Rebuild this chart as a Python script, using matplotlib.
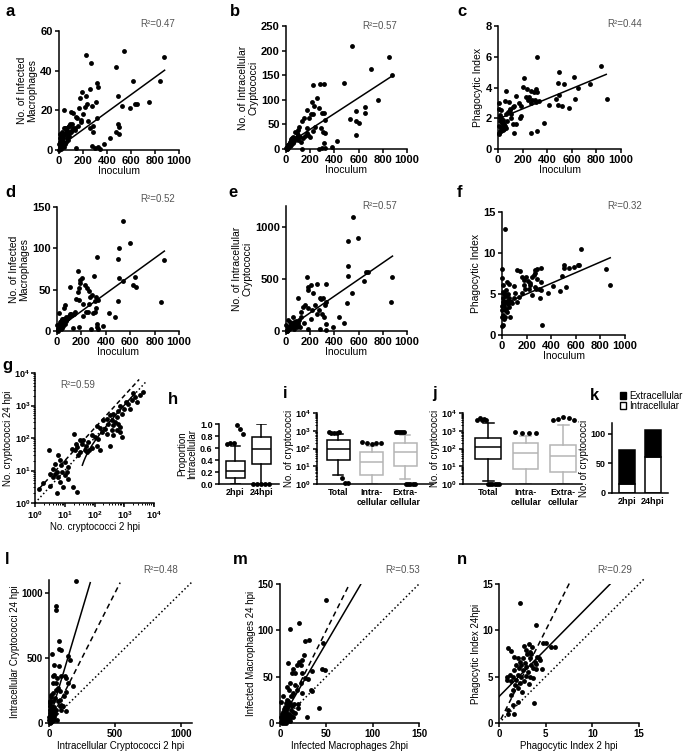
import numpy as np
import matplotlib
matplotlib.use('Agg')
import matplotlib.pyplot as plt
from matplotlib.patches import Patch
from matplotlib.ticker import FuncFormatter, LogLocator, NullFormatter

plt.rcParams['font.family'] = ['Liberation Sans', 'DejaVu Sans']
plt.rcParams['font.weight'] = 'bold'
plt.rcParams['mathtext.fontset'] = 'custom'
plt.rcParams['mathtext.bf'] = 'Liberation Sans:bold'
plt.rcParams['mathtext.rm'] = 'Liberation Sans'

W, H = 685, 753

# ---------------- data ----------------
inoc_infmac_2h = [(223, 48), (540, 50), (877, 47), (270, 44), (471, 42), (318, 34), (618, 35), (841, 35),
                  (329, 32), (189, 29), (173, 26), (223, 27), (256, 31), (306, 24), (493, 27), (273, 22),
                  (214, 21.5), (234, 23), (529, 22), (590, 21), (646, 23), (632, 23), (749, 24), (39, 20),
                  (167, 21), (103, 19), (117, 18.5), (142, 16.8), (153, 16), (320, 16), (200, 18), (181, 15),
                  (240, 14.5), (284, 12), (284, 9), (493, 13), (499, 11.4), (504, 8), (474, 9), (61, 11),
                  (81, 12), (111, 13), (134, 11), (162, 12), (184, 14), (256, 11), (423, 6.2), (376, 3),
                  (273, 2), (304, 1.2), (326, 1.7), (340, 0.5), (139, 1),
                  (5, 1), (10, 2), (15, 3), (12, 4), (20, 5), (25, 5), (30, 6), (35, 7), (45, 8), (55, 8),
                  (60, 9), (70, 10), (20, 0.5), (40, 1.5), (50, 3), (65, 6), (80, 7), (90, 9), (30, 4), (8, 6),
                  (15, 7), (25, 9), (40, 11), (50, 11), (70, 8), (100, 9), (110, 10), (95, 13), (85, 12),
                  (120, 11), (130, 10), (60, 4), (75, 5), (18, 2), (28, 3), (4, 0), (2, 3), (12, 8)]

inoc_intra_2h = [(544, 209), (854, 188), (702, 162), (880, 150), (481, 135), (282, 133), (318, 133), (221, 131),
                 (260, 103), (215, 95), (235, 88), (171, 79), (276, 83), (312, 74), (296, 74), (207, 72),
                 (224, 72), (191, 62), (152, 62), (135, 56), (171, 42), (655, 86), (649, 73), (760, 100),
                 (577, 78), (580, 56), (600, 53), (533, 61), (577, 28), (323, 59), (304, 35), (287, 42),
                 (240, 45), (226, 37), (323, 32), (425, 17), (378, 5), (296, 2), (323, 2), (276, 1), (312, 12),
                 (130, 1), (102, 39), (108, 45), (72, 35), (88, 32), (116, 24), (97, 18), (61, 14), (33, 10),
                 (19, 7), (14, 3), (47, 18), (157, 26), (185, 28), (199, 25), (144, 22), (171, 32), (124, 15),
                 (5, 1), (10, 3), (15, 5), (20, 8), (25, 10), (30, 12), (35, 15), (40, 18), (45, 20), (50, 22),
                 (60, 25), (8, 0), (12, 2), (20, 4), (30, 6), (40, 8), (55, 12), (65, 16), (70, 20), (80, 22),
                 (90, 24), (100, 28), (3, 2), (6, 4)]

inoc_pi_2h = [(319, 5.97), (837, 5.42), (499, 4.99), (210, 4.62), (619, 4.66), (490, 4.32), (537, 4.23),
              (749, 4.21), (649, 4.0), (204, 4.06), (232, 3.88), (68, 3.77), (272, 3.77), (292, 3.71),
              (313, 3.93), (319, 3.69), (150, 3.43), (226, 3.4), (253, 3.4), (471, 3.25), (499, 3.54),
              (278, 3.19), (300, 3.19), (308, 3.06), (335, 3.12), (272, 2.97), (245, 3.19), (54, 3.12),
              (90, 3.08), (169, 2.97), (185, 2.8), (134, 2.8), (417, 2.84), (490, 2.86), (523, 2.82),
              (578, 2.65), (886, 3.23), (627, 3.25), (5, 2.97), (27, 2.54), (95, 2.54), (63, 2.26),
              (109, 2.26), (185, 2.17), (177, 2.04), (109, 2.04), (14, 2.06), (27, 2.0), (371, 1.67),
              (123, 1.63), (144, 1.61), (41, 1.67), (49, 1.5), (27, 1.34), (68, 1.34), (14, 1.17),
              (319, 1.19), (131, 1.02), (272, 1.02), (8, 1.02), (41, 1.24),
              (10, 1.5), (20, 1.8), (30, 1.4), (35, 1.7), (45, 1.3), (50, 1.6), (15, 2.2), (25, 1.2),
              (40, 1.9), (60, 1.5), (70, 1.8), (80, 2.4), (100, 2.6), (120, 2.7), (12, 2.6), (6, 1.0)]

inoc_infmac_24h = [(543, 132.7), (600, 106.5), (505, 101), (326, 89), (500, 86.5), (880, 85.6), (171, 72.8),
                   (307, 66.3), (641, 65.5), (505, 64.3), (201, 64), (190, 61.5), (538, 60.3), (620, 55.5),
                   (647, 53.5), (103, 53.5), (185, 57.5), (177, 52.3), (231, 55.5), (245, 52.3), (266, 48.7),
                   (171, 47.4), (285, 43.4), (272, 41.4), (321, 40.6), (332, 37.4), (315, 36.2), (497, 36.6),
                   (152, 38.2), (177, 37.4), (853, 34.6), (217, 32.2), (266, 32.6), (321, 28.1), (234, 23.3),
                   (253, 23.3), (293, 22.1), (315, 23.3), (424, 22.1), (473, 17.3), (215, 18.5), (179, 5.2),
                   (329, 8.4), (329, 5.2), (380, 6.4), (280, 2), (334, 2), (130, 3.2), (144, 23.3), (63, 31.4),
                   (57, 27.3), (16, 21.3), (27, 11.3), (98, 17.3), (117, 20), (76, 17.3),
                   (5, 1), (10, 3), (15, 5), (20, 7), (25, 8), (30, 10), (35, 12), (40, 14), (50, 15), (60, 13),
                   (70, 12), (80, 15), (90, 16), (8, 0), (12, 2), (18, 4), (25, 6), (35, 9), (45, 11), (55, 14),
                   (65, 9), (30, 2), (45, 4), (3, 7), (100, 18), (110, 20), (120, 19), (140, 21), (50, 6)]

inoc_intra_24h = [(552, 1096), (594, 895), (511, 863), (511, 626), (516, 530), (880, 521), (641, 479),
                  (663, 569), (677, 569), (544, 361), (506, 265), (870, 281), (171, 521), (207, 441),
                  (329, 447), (180, 425), (185, 393), (254, 447), (221, 361), (282, 313), (309, 313),
                  (290, 303), (97, 319), (157, 249), (240, 249), (323, 249), (329, 281), (144, 233),
                  (124, 185), (185, 217), (218, 201), (273, 201), (296, 163), (318, 137), (254, 160),
                  (207, 115), (434, 137), (483, 80), (331, 67), (387, 35), (282, 16), (331, 10), (180, 16),
                  (116, 42), (61, 137), (19, 105), (97, 80), (149, 80), (75, 58),
                  (5, 3), (10, 10), (15, 20), (20, 30), (25, 40), (30, 50), (40, 60), (50, 70), (60, 80),
                  (70, 90), (80, 100), (8, 0), (15, 5), (25, 15), (35, 25), (45, 35), (55, 45), (65, 20),
                  (100, 60), (110, 110), (120, 130), (90, 40), (3, 60), (30, 90)]

inoc_pi_24h = [(22, 12.97), (643, 10.54), (846, 8.03), (880, 6.08), (630, 8.5), (589, 8.3), (614, 8.5),
               (500, 8.5), (500, 8.23), (541, 8.19), (319, 8.23), (486, 7.17), (522, 5.88), (473, 5.35),
               (414, 5.96), (370, 5.15), (324, 1.22), (122, 7.9), (143, 7.78), (270, 7.9), (265, 7.58),
               (257, 7.3), (284, 8.1), (243, 7.09), (162, 7.09), (176, 6.69), (195, 7.09), (208, 6.57),
               (230, 6.36), (284, 6.89), (230, 6.08), (176, 6.08), (189, 5.67), (222, 5.67), (270, 5.88),
               (278, 5.55), (297, 5.67), (319, 5.47), (319, 6.49), (243, 4.86), (305, 4.54), (162, 5.07),
               (135, 4.66), (108, 5.15), (95, 5.96), (54, 6.28), (95, 4.46), (122, 4.05), (54, 4.05),
               (81, 3.85), (68, 2.23), (27, 2.23), (0, 8.0), (0, 6.97), (8, 6.08), (27, 4.95), (14, 3.85),
               (0, 3.04), (0, 2.23), (8, 1.22), (0, 1.09), (41, 2.84), (54, 3.45),
               (5, 4), (10, 4.5), (15, 3.5), (20, 5), (25, 4), (30, 3.2), (35, 4.8), (40, 4.2), (45, 3.8),
               (50, 5), (60, 4.5), (70, 4), (12, 2.5), (20, 2), (30, 5.5), (40, 6.5), (8, 5.2), (3, 3.5),
               (18, 4.0), (25, 3.0)]

# panel g, log10 of counts (2 hpi, 24 hpi)
log_total_2h_24h = [(3.64, 3.42), (3.28, 3.38), (3.35, 3.26), (3.53, 3.31), (3.25, 3.16), (3.42, 3.11),
                    (3.14, 3.06), (3.06, 3.11), (2.86, 3.0), (3.0, 2.9), (3.19, 2.9), (2.8, 2.82),
                    (2.91, 2.75), (2.63, 2.73), (2.52, 2.7), (2.75, 2.65), (2.41, 2.59), (2.3, 2.54),
                    (2.58, 2.54), (2.69, 2.49), (2.8, 2.44), (2.46, 2.44), (2.63, 2.39), (2.86, 2.34),
                    (2.18, 2.32), (2.07, 2.36), (2.35, 2.29), (2.58, 2.26), (2.75, 2.24), (2.24, 2.18),
                    (2.41, 2.13), (2.63, 2.08), (2.91, 2.03), (2.86, 2.18), (1.31, 2.11), (1.9, 2.08),
                    (2.02, 2.03), (2.13, 1.98), (1.62, 1.95), (1.51, 1.93), (1.79, 1.88), (1.38, 1.83),
                    (1.57, 1.81), (1.71, 1.74), (1.42, 1.72), (1.9, 1.7), (2.07, 1.74), (1.23, 1.67),
                    (1.34, 1.62), (1.51, 1.57), (1.68, 1.62), (1.83, 1.64), (2.18, 1.64), (1.46, 1.47),
                    (1.74, 1.57), (2.52, 1.74), (0.48, 1.62), (0.78, 1.47), (0.84, 1.33), (0.67, 1.21),
                    (0.62, 1.06), (0.86, 1.16), (1.01, 1.26), (1.12, 1.11), (0.73, 0.95), (0.9, 0.95),
                    (1.06, 0.95), (0.5, 0.9), (0.62, 0.8), (0.78, 0.8), (0.84, 0.65), (0.95, 0.49),
                    (1.27, 0.49), (1.12, 0.73), (0.28, 0.62), (0.5, 0.51), (0.15, 0.44), (0.73, 0.31),
                    (1.4, 0.34), (0.67, 0.9), (1.01, 0.85)]

intra_2h_24h = [(207, 1095), (50, 897), (56, 872), (76, 628), (88, 564), (76, 569), (23, 531), (144, 518),
                (157, 487), (38, 449), (76, 441), (30, 359), (38, 372), (61, 346), (93, 364), (119, 359),
                (131, 346), (182, 282), (144, 308), (56, 256), (68, 269), (86, 244), (30, 231), (131, 236),
                (114, 205), (43, 192), (81, 179), (18, 218), (131, 90), (61, 26), (5, 154), (18, 128),
                (30, 103), (43, 77), (56, 103), (81, 128), (5, 51), (18, 26), (93, 103), (106, 128), (68, 167),
                (50, 308), (30, 308), (93, 141),
                (2, 20), (3, 50), (5, 80), (8, 100), (10, 130), (12, 10), (15, 40), (20, 60), (25, 90), (4, 0),
                (6, 30), (10, 5), (20, 15), (28, 35), (35, 50), (40, 20), (45, 70), (8, 170), (12, 200),
                (30, 170), (40, 120)]

infmac_2h_24h = [(49.6, 133), (20.5, 107.5), (10.8, 101), (31.7, 90), (27, 88), (46.8, 86), (8.3, 65),
                 (25.9, 73), (23.4, 68), (20.5, 66), (18, 63), (22.7, 63), (13.7, 58), (16.2, 54), (34.9, 55.6),
                 (45, 58), (48.6, 57), (24, 54), (12.6, 54), (27, 49), (30.6, 48), (10.8, 43), (16.2, 41),
                 (22.7, 43), (33.5, 36), (34.9, 34), (7.2, 39), (9.7, 36), (18, 36), (14.4, 32), (23.4, 32),
                 (11.9, 29), (3.6, 29), (7.2, 25), (1.1, 23), (19.8, 20), (19.1, 16), (42.4, 16), (16.2, 11),
                 (28.8, 6.5), (10.8, 21.5),
                 (1, 1), (2, 3), (3, 5), (4, 8), (5, 10), (6, 12), (7, 14), (8, 16), (9, 18), (10, 20), (2, 0),
                 (3, 2), (5, 4), (6, 6), (8, 8), (10, 10), (12, 14), (13, 18), (1, 7), (2, 10), (4, 15), (6, 2),
                 (8, 3), (11, 5), (12, 8), (14, 12), (15, 20), (3, 12), (5, 17), (7, 22), (9, 24), (4, 0),
                 (6, 0), (11, 2), (14, 6)]

pi_2h_24h = [(2.21, 12.97), (3.93, 10.57), (5.54, 8.17), (5.96, 8.24), (4.71, 8.6), (5.0, 8.6), (2.68, 8.3),
             (3.18, 8.5), (3.57, 8.24), (0.96, 8.06), (1.32, 7.8), (1.61, 7.17), (2.86, 7.9), (3.04, 7.5),
             (3.29, 7.7), (3.39, 7.4), (4.07, 7.17), (4.29, 7.0), (3.82, 6.63), (3.29, 7.0), (2.57, 7.0),
             (2.21, 6.63), (2.75, 6.52), (1.86, 6.27), (2.39, 6.27), (2.93, 6.09), (3.46, 6.27), (3.64, 5.9),
             (4.61, 5.8), (2.11, 5.9), (1.61, 5.7), (2.57, 5.7), (3.11, 5.55), (1.14, 5.2), (0.89, 5.0),
             (1.5, 5.0), (2.04, 5.2), (2.39, 5.0), (2.93, 5.1), (3.29, 5.0), (3.64, 4.84), (0.89, 4.66),
             (1.32, 4.48), (1.79, 4.59), (2.21, 4.3), (2.68, 4.48), (3.18, 4.23), (1.68, 4.12), (2.04, 3.76),
             (1.5, 3.58), (2.5, 3.3), (1.32, 3.05), (3.71, 2.15), (2.04, 2.22), (1.5, 1.97), (0.96, 1.43),
             (1.61, 1.0), (0.96, 1.0), (3.93, 5.8), (4.0, 6.38), (4.36, 6.8), (2.04, 7.0)]

# linear fits: slope, intercept, x from, x to
fit_a = (0.044, 1.5, 0, 880)
fit_b = (0.16, 8, 0, 880)
fit_c = (0.0033, 1.95, 0, 880)
fit_d = (0.107, 2.5, 0, 880)
fit_e = (0.80, 15, 0, 880)
fit_f = (0.0065, 3.7, 0, 880)
fit_g = (1.04, -26, 39, 2000)
fit_l = (3.4, 15, 0, 313)
fit_m = (1.7, 1.5, 0, 87)
fit_n = (1.02, 2.85, 0, 11.9)

r2_values = {'a': 0.47, 'b': 0.57, 'c': 0.44, 'd': 0.52, 'e': 0.57, 'f': 0.32,
             'g': 0.59, 'l': 0.48, 'm': 0.53, 'n': 0.29}

# h: proportion intracellular
h_labels = ['2hpi', '24hpi']
h_stats = [dict(whislo=0.0, q1=0.10, med=0.22, q3=0.38, whishi=0.64),
           dict(whislo=0.0, q1=0.34, med=0.58, q3=0.79, whishi=1.0)]
h_fliers = [[0.67, 0.68, 0.68, 0.98, 0.91, 0.84], [0.0, 0.0, 0.0, 0.0, 0.0]]

cat_labels = ['Total', 'Intra-\ncellular', 'Extra-\ncellular']
i_stats = [dict(whislo=3.2, q1=23, med=91, q3=283, whishi=650),
           dict(whislo=1.0, q1=3.2, med=18, q3=65, whishi=130),
           dict(whislo=1.8, q1=10, med=62, q3=200, whishi=590)]
i_fliers = [[880, 780, 780, 760, 880, 2.1, 1.1, 1.1],
            [230, 200, 190, 200, 215],
            [800, 800, 800, 850, 900, 1, 1, 1, 1, 1]]
j_stats = [dict(whislo=1.4, q1=26, med=120, q3=370, whishi=2700),
           dict(whislo=1.0, q1=6.8, med=55, q3=200, whishi=480),
           dict(whislo=1.0, q1=4.8, med=38, q3=160, whishi=2200)]
j_fliers = [[4000, 5500, 4200, 4500, 4300, 1, 1, 1, 1, 1, 1],
            [800, 700, 700, 750],
            [4200, 4800, 6000, 5000, 4200]]

k_labels = ['2hpi', '24hpi']
k_intra = [15, 60]
k_extra = [57, 47]


# ---------------- helpers ----------------
fig = plt.figure(figsize=(W / 100, H / 100), dpi=100)


def px_axes(x0, y0, x1, y1):
    return fig.add_axes([x0 / W, 1 - y1 / H, (x1 - x0) / W, (y1 - y0) / H])


def style(ax, fs):
    for s in ['top', 'right']:
        ax.spines[s].set_visible(False)
    for s in ['left', 'bottom']:
        ax.spines[s].set_linewidth(1.1)
    ax.tick_params(direction='out', length=3, width=1.1, labelsize=fs, pad=1.5)


def scatter(ax, pts):
    x, y = zip(*pts)
    ax.plot(x, y, 'o', ms=3.5, color='black', mec='none', clip_on=False, zorder=3)


def fitline(ax, fit, style='-'):
    s, b, x0, x1 = fit
    xs = np.linspace(x0, x1, 200)
    ax.plot(xs, s * xs + b, style, color='black', lw=1.1, zorder=4)


def letter(ch, x, y):
    fig.text(x / W, 1 - y / H, ch, fontsize=12, fontweight='bold', va='top', ha='left')


def r2(ch, x, y, fs=7):
    fig.text(x / W, 1 - y / H, 'R²=%.2f' % r2_values[ch], fontsize=fs, color='#555555',
             fontweight='normal', va='center', ha='left')


def logfmt(v, pos):
    return r'$\mathbf{10^{%d}}$' % int(round(np.log10(v)))


# ---------------- top two rows ----------------
top = [
    ('a', inoc_infmac_2h, fit_a, (59, 31, 179, 150), (0, 60), [0, 20, 40, 60], 'No. of Infected\nMacrophages', (5, 4), (140, 24)),
    ('b', inoc_intra_2h, fit_b, (286, 26, 407, 149), (0, 250), [0, 50, 100, 150, 200, 250], 'No. of Intracellular\nCryptococci', (230, 4), (362, 26)),
    ('c', inoc_pi_2h, fit_c, (498, 26, 621, 149), (0, 8), [0, 2, 4, 6, 8], 'Phagocytic Index', (457, 4), (607, 24)),
    ('d', inoc_infmac_24h, fit_d, (57, 207, 179, 331), (0, 150), [0, 50, 100, 150], 'No. of Infected\nMacrophages', (5, 185), (140, 199)),
    ('e', inoc_intra_24h, fit_e, (286, 206, 407, 331), (0, 1200), [0, 500, 1000], 'No. of Intracellular\nCryptococci', (228, 185), (362, 206)),
    ('f', inoc_pi_24h, fit_f, (502, 212, 625, 335), (0, 15), [0, 5, 10, 15], 'Phagocytic Index', (457, 185), (607, 206)),
]
for ch, pts, fit, box, ylim, yticks, ylab, lpos, rpos in top:
    ax = px_axes(*box)
    scatter(ax, pts)
    fitline(ax, fit)
    ax.set_xlim(0, 1000)
    ax.set_ylim(*ylim)
    ax.set_xticks([0, 200, 400, 600, 800, 1000])
    ax.set_yticks(yticks)
    style(ax, 8)
    ax.set_xlabel('Inoculum', fontsize=7.5, fontweight='normal', labelpad=0)
    ax.set_ylabel(ylab, fontsize=7.5, fontweight='normal', labelpad=2, linespacing=1.0)
    letter(ch, *lpos)
    r2(ch, *rpos)

# ---------------- g ----------------
ax = px_axes(35, 373, 154, 503)
lx, ly = zip(*log_total_2h_24h)
ax.plot(10 ** np.array(lx), 10 ** np.array(ly), 'o', ms=3.5, color='black', mec='none', zorder=3)
ax.set_xscale('log')
ax.set_yscale('log')
ax.set_xlim(1, 1e4)
ax.set_ylim(1, 1e4)
ref = np.logspace(0, 3.75, 50)
ax.plot(ref, ref, ':', color='black', lw=1.1)
ref2 = np.logspace(0.15, 3.5, 50)
ax.plot(ref2, 2 * ref2, '--', color='black', lw=1.1, dashes=(3, 2))
xs = np.logspace(np.log10(fit_g[2]), np.log10(fit_g[3]), 200)
ax.plot(xs, fit_g[0] * xs + fit_g[1], '-', color='black', lw=1.1)
for axis in (ax.xaxis, ax.yaxis):
    axis.set_major_locator(LogLocator(base=10, numticks=6))
    axis.set_major_formatter(FuncFormatter(logfmt))
    axis.set_minor_locator(LogLocator(base=10, subs=np.arange(2, 10), numticks=10))
    axis.set_minor_formatter(NullFormatter())
style(ax, 6.5)
ax.tick_params(which='minor', length=1.5, width=0.7)
ax.tick_params(axis='y', pad=0.5)
ax.set_xlabel('No. cryptococci 2 hpi', fontsize=7, fontweight='normal', labelpad=1)
ax.set_ylabel('No. cryptococci 24 hpi', fontsize=7, fontweight='normal', labelpad=1)
letter('g', 2, 358)
r2('g', 60, 385)


# ---------------- box plots ----------------
def boxpanel(ax, stats, fliers, colors, width, cap):
    pos = np.arange(len(stats))
    for k, st in enumerate(stats):
        st = dict(st)
        st['fliers'] = []
        c = colors[k]
        ax.bxp([st], positions=[pos[k]], widths=width, showfliers=False, patch_artist=True,
               boxprops=dict(facecolor='white', edgecolor=c, linewidth=1.1),
               medianprops=dict(color=c, linewidth=1.1),
               whiskerprops=dict(color=c, linewidth=1.1),
               capprops=dict(color=c, linewidth=1.1), capwidths=cap, manage_ticks=False)
        f = fliers[k]
        if len(f) > 1:
            xs = pos[k] + np.linspace(-width * 0.42, width * 0.42, len(f))
        else:
            xs = [pos[k]] * len(f)
        ax.plot(xs, f, 'o', ms=3.5, color='black', mec='none', clip_on=False, zorder=5)
    ax.set_xticks(pos)


# h
ax = px_axes(219, 424, 279, 484)
boxpanel(ax, h_stats, h_fliers, ['black', 'black'], 0.73, 0.35)
ax.set_xlim(-0.62, 1.69)
ax.set_ylim(0, 1.0)
ax.set_yticks([0, 0.2, 0.4, 0.6, 0.8, 1.0])
ax.set_yticklabels(['0.0', '0.2', '0.4', '0.6', '0.8', '1.0'])
ax.set_xticklabels(h_labels)
style(ax, 6.5)
ax.tick_params(axis='x', length=0, labelsize=6.5, pad=3)
ax.set_ylabel('Proportion\nIntracellular', fontsize=7, fontweight='normal', labelpad=2, linespacing=1.0)
letter('h', 168, 392)

# i, j
for ch, box, stats, fl, xl, lp in [('i', (317, 413, 433, 484), i_stats, i_fliers, (-0.63, 2.83), (283, 386)),
                                   ('j', (463, 413, 582, 484), j_stats, j_fliers, (-0.67, 2.5), (432, 386))]:
    ax = px_axes(*box)
    boxpanel(ax, stats, fl, ['black', '#b5b5b5', '#b5b5b5'], 0.68, 0.3)
    ax.set_yscale('log')
    ax.set_ylim(1, 1e4)
    ax.set_xlim(*xl)
    ax.yaxis.set_major_locator(LogLocator(base=10, numticks=6))
    ax.yaxis.set_major_formatter(FuncFormatter(logfmt))
    ax.yaxis.set_minor_locator(LogLocator(base=10, subs=np.arange(2, 10), numticks=10))
    ax.yaxis.set_minor_formatter(NullFormatter())
    ax.set_xticklabels(cat_labels, linespacing=1.1)
    style(ax, 6.5)
    ax.tick_params(axis='x', length=0, labelsize=6.3, pad=3)
    ax.tick_params(which='minor', length=1.5, width=0.7)
    ax.set_ylabel('No. of cryptococci', fontsize=7, fontweight='normal', labelpad=1)
    letter(ch, *lp)

# k
ax = px_axes(612, 423, 668, 493)
pos = np.arange(len(k_labels))
ax.bar(pos, k_intra, 0.63, color='white', edgecolor='black', linewidth=1.1)
ax.bar(pos, k_extra, 0.63, bottom=k_intra, color='black', edgecolor='black', linewidth=1.1)
ax.set_xlim(-0.6, 1.6)
ax.set_ylim(0, 118)
ax.set_yticks([0, 50, 100])
ax.set_xticks(pos)
ax.set_xticklabels(k_labels)
style(ax, 6.5)
ax.tick_params(axis='x', length=0, pad=3)
ax.set_ylabel('No. of cryptococci', fontsize=7, fontweight='normal', labelpad=1)
ax.legend(handles=[Patch(facecolor='black', edgecolor='black', label='Extracellular'),
                   Patch(facecolor='white', edgecolor='black', label='Intracellular')],
          loc='lower left', bbox_to_anchor=(0.05, 1.1), frameon=False,
          handlelength=0.7, handleheight=0.7, handletextpad=0.3, labelspacing=0.05, borderpad=0,
          prop=dict(size=7, weight='normal'))
letter('k', 590, 388)

# ---------------- bottom row ----------------
bottom = [
    ('l', intra_2h_24h, fit_l, (49, 580, 192, 723), (0, 1085), (0, 1100), [0, 500, 1000], (0, 540), (0, 1090),
     'Intracellular Cryptococci 2 hpi', 'Intracellular Cryptococci 24 hpi', (5, 552), (143, 570)),
    ('m', infmac_2h_24h, fit_m, (280, 584, 419, 723), (0, 150), (0, 150), [0, 50, 100, 150], (0, 75), (0, 150),
     'Infected Macrophages 2hpi', 'Infected Macrophages 24 hpi', (233, 552), (385, 570)),
    ('n', pi_2h_24h, fit_n, (499, 584, 639, 723), (0, 15), (0, 15), [0, 5, 10, 15], (0.2, 7.6), (0.3, 15.5),
     'Phagocytic Index 2 hpi', 'Phagocytic Index 24hpi', (457, 552), (597, 570)),
]
for ch, pts, fit, box, xlim, ylim, ticks, dash_rng, dot_rng, xlab, ylab, lpos, rpos in bottom:
    ax = px_axes(*box)
    scatter(ax, pts)
    fitline(ax, fit)
    d = np.linspace(*dash_rng, 50)
    ax.plot(d, 2 * d, '--', color='black', lw=1.1, dashes=(3.5, 2.5), clip_on=False)
    d = np.linspace(*dot_rng, 50)
    ax.plot(d, d, ':', color='black', lw=1.1, clip_on=False)
    ax.set_xlim(*xlim)
    ax.set_ylim(*ylim)
    ax.set_xticks(ticks)
    ax.set_yticks(ticks)
    style(ax, 7)
    ax.set_xlabel(xlab, fontsize=7, fontweight='normal', labelpad=1)
    ax.set_ylabel(ylab, fontsize=7, fontweight='normal', labelpad=1)
    letter(ch, *lpos)
    r2(ch, *rpos)

fig.savefig('out.png', dpi=100)
